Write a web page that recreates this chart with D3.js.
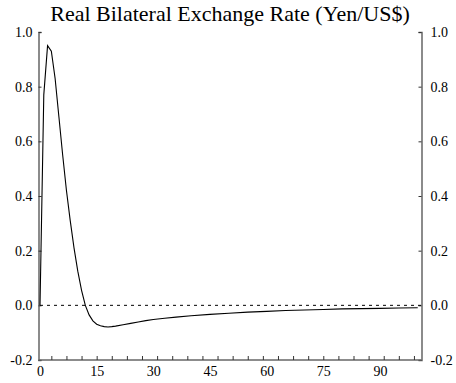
<!DOCTYPE html>
<html>
<head>
<meta charset="utf-8">
<script src="https://cdnjs.cloudflare.com/ajax/libs/d3/7.8.5/d3.min.js"></script>
<style>
body { margin:0; background:#fff; }
</style>
</head>
<body>
<script>
var width = 456,
    height = 383,
    margin = {left:38.5, right:34.5, top:32, bottom:23};
var serif = "Liberation Serif, Times New Roman, serif";

var title = "Real Bilateral Exchange Rate (Yen/US$)";
var periods = [0,1,2,3,4,5,6,7,8,9,10,11,12,13,14,15,16,17,18,19,20,22,24,26,28,30,33,36,40,45,50,55,60,65,70,75,80,85,90,95,100];
var response = [0,0.77,0.95,0.93,0.83,0.69,0.55,0.42,0.31,0.21,0.125,0.055,0.0,-0.035,-0.057,-0.069,-0.075,-0.078,-0.079,-0.078,-0.076,-0.071,-0.066,-0.061,-0.056,-0.052,-0.047,-0.043,-0.038,-0.033,-0.029,-0.025,-0.022,-0.019,-0.017,-0.015,-0.013,-0.012,-0.011,-0.010,-0.009];
var xTickLabels = [0,15,30,45,60,75,90];
var yTickLabels = [-0.2,0,0.2,0.4,0.6,0.8,1.0];

var svg = d3.select("body").append("svg")
    .attr("width",width)
    .attr("height",height)

var x = d3.scaleLinear()
    .domain([-0.4,101])
    .range([margin.left,width-margin.right])
var y = d3.scaleLinear()
    .domain([-0.2,1.0])
    .range([height-margin.bottom,margin.top])

// plain hyphen for negatives, like the original
var fmt = d3.formatLocale({decimal:".", thousands:",", grouping:[3], currency:["$",""], minus:"-"}).format(".1f");

var axisLeft = d3.axisLeft(y)
    .tickValues(yTickLabels)
    .tickSize(-3)
    .tickPadding(6)
    .tickFormat(fmt)
var axisRight = d3.axisRight(y)
    .tickValues(yTickLabels)
    .tickSize(-3)
    .tickPadding(9)
    .tickFormat(fmt)
var axisBottom = d3.axisBottom(x)
    .tickValues(xTickLabels)
    .tickSize(0)
    .tickPadding(6)
    .tickFormat(d3.format("d"))
// small ticks along the bottom, every 4 periods
var axisMinor = d3.axisBottom(x)
    .tickValues(d3.range(3,100,4))
    .tickSize(-4)
    .tickFormat("")

function style(g){
    g.attr("font-family",serif).attr("font-size",14);
    g.select(".domain").attr("stroke","#666").attr("stroke-width",1.5);
    g.selectAll(".tick line").attr("stroke","#333");
    g.selectAll("text").attr("fill","#000");
}

svg.append("g").attr("transform","translate(" + margin.left + ",0)")
    .call(axisLeft).call(style)
svg.append("g").attr("transform","translate(" + (width-margin.right) + ",0)")
    .call(axisRight).call(style)
svg.append("g").attr("transform","translate(0," + (height-margin.bottom) + ")")
    .call(axisBottom).call(style)
    .select(".domain").remove()
svg.append("g").attr("transform","translate(0," + (height-margin.bottom) + ")")
    .call(axisMinor).call(style)
    .select(".domain").attr("d","M" + margin.left + ",0H" + (width-margin.right))

// zero line
svg.append("line")
    .attr("x1",x(0)).attr("x2",width-margin.right)
    .attr("y1",y(0)).attr("y2",y(0))
    .attr("stroke","#000")
    .attr("stroke-width",1)
    .attr("stroke-dasharray","3,4")

var line = d3.line()
    .x(function(d,i) { return x(periods[i]); })
    .y(function(d) { return y(d); })

svg.append("path")
    .attr("d",line(response))
    .attr("fill","none")
    .attr("stroke","#000")
    .attr("stroke-width",1.1)

svg.append("text")
    .attr("x",230)
    .attr("y",21)
    .attr("text-anchor","middle")
    .attr("font-family",serif)
    .attr("font-size",22)
    .text(title)
</script>
</body>
</html>
